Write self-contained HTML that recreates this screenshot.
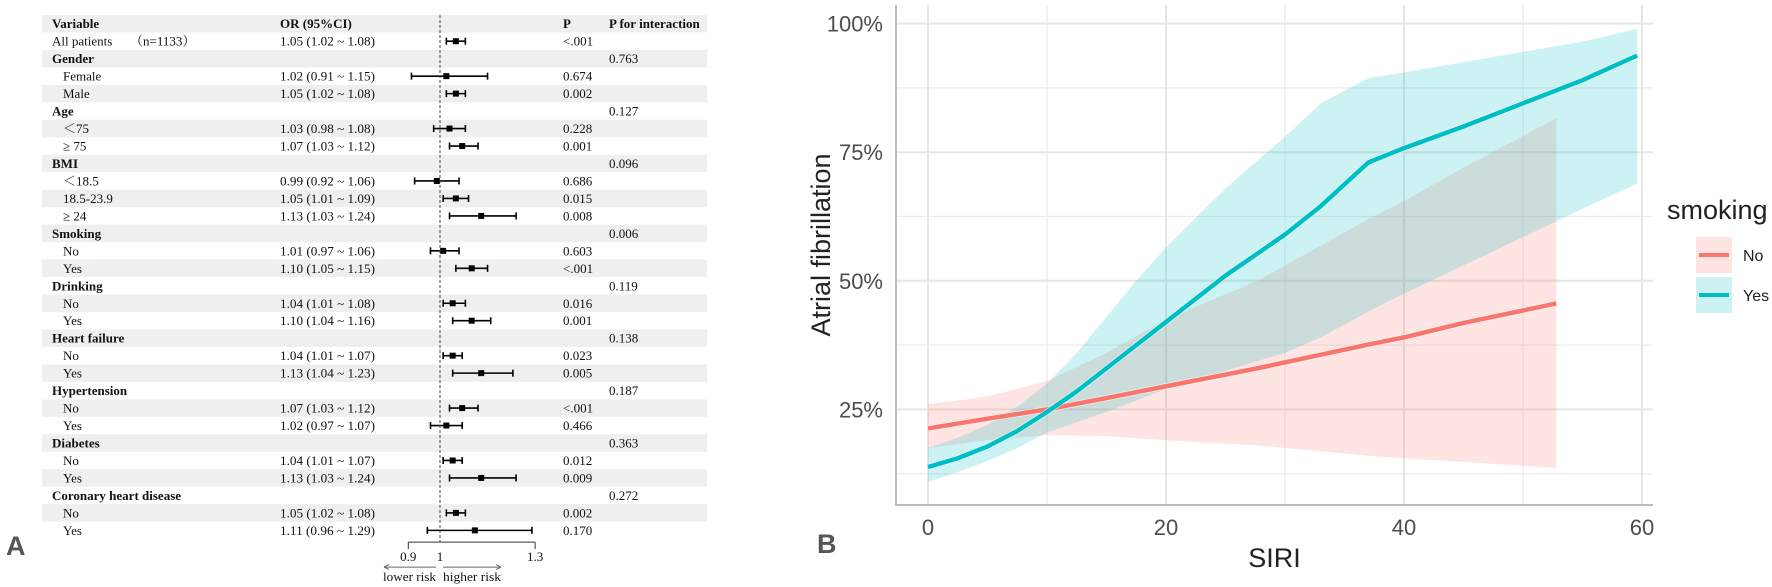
<!DOCTYPE html>
<html><head><meta charset="utf-8">
<style>
html,body{margin:0;padding:0;background:#fff;}
svg{display:block;}
.serif{font-family:"Liberation Serif","Noto Serif CJK SC",serif;}
.sans{font-family:"Liberation Sans",sans-serif;}
</style></head>
<body>
<svg id="fig" width="1772" height="587" viewBox="0 0 1772 587" xmlns="http://www.w3.org/2000/svg">
  <g id="forest"></g>
  <g id="chart"></g>
</svg>
<script>
// ---------- Panel A data ----------
const rowLabels = ["All patients","Gender","Female","Male","Age","\uFF1C75","\u2265 75","BMI","\uFF1C18.5","18.5-23.9","\u2265 24","Smoking","No","Yes","Drinking","No","Yes","Heart failure","No","Yes","Hypertension","No","Yes","Diabetes","No","Yes","Coronary heart disease","No","Yes"];
const rowIsGroup = [1,1,0,0,1,0,0,1,0,0,0,1,0,0,1,0,0,1,0,0,1,0,0,1,0,0,1,0,0];
const orValues = [1.05,null,1.02,1.05,null,1.03,1.07,null,0.99,1.05,1.13,null,1.01,1.10,null,1.04,1.10,null,1.04,1.13,null,1.07,1.02,null,1.04,1.13,null,1.05,1.11];
const orLower  = [1.02,null,0.91,1.02,null,0.98,1.03,null,0.92,1.01,1.03,null,0.97,1.05,null,1.01,1.04,null,1.01,1.04,null,1.03,0.97,null,1.01,1.03,null,1.02,0.96];
const orUpper  = [1.08,null,1.15,1.08,null,1.08,1.12,null,1.06,1.09,1.24,null,1.06,1.15,null,1.08,1.16,null,1.07,1.23,null,1.12,1.07,null,1.07,1.24,null,1.08,1.29];
const pValues  = ["<.001","","0.674","0.002","","0.228","0.001","","0.686","0.015","0.008","","0.603","<.001","","0.016","0.001","","0.023","0.005","","<.001","0.466","","0.012","0.009","","0.002","0.170"];
const pInter   = ["","0.763","","","0.127","","","0.096","","","","0.006","","","0.119","","","0.138","","","0.187","","","0.363","","","0.272","",""];
const forestTicks = [0.9,1,1.3];

// ---------- Panel B data ----------
const noX     = [0,5,10,15,20,27.7,37,40,45,52.8];
const noFit   = [0.213,0.232,0.25,0.272,0.295,0.33,0.376,0.39,0.418,0.456];
const noLo    = [0.175,0.19,0.2,0.198,0.19,0.18,0.16,0.155,0.148,0.136];
const noHi    = [0.26,0.275,0.305,0.36,0.425,0.5,0.62,0.655,0.72,0.816];
const yesX    = [0,2.5,5,7.5,10,12.5,15,17.5,20,25,30,33,37,40,45,50,55,59.6];
const yesFit  = [0.138,0.155,0.178,0.208,0.245,0.285,0.33,0.375,0.42,0.51,0.59,0.645,0.73,0.758,0.80,0.845,0.89,0.938];
const yesLo   = [0.109,0.128,0.15,0.175,0.205,0.225,0.245,0.267,0.29,0.325,0.36,0.39,0.44,0.475,0.53,0.585,0.64,0.689];
const yesHi   = [0.175,0.195,0.22,0.255,0.3,0.36,0.43,0.5,0.565,0.68,0.78,0.845,0.894,0.905,0.925,0.945,0.965,0.99];
const xTicks  = [0,20,40,60];
const yTicks  = [0.25,0.5,0.75,1.0];
const yTickLabels = ["25%","50%","75%","100%"];
const xMinor  = [10,30,50];
const yMinor  = [0.125,0.375,0.625,0.875];

const NS="http://www.w3.org/2000/svg";
function mk(tag,attrs,parent){const e=document.createElementNS(NS,tag);for(const k in attrs)e.setAttribute(k,attrs[k]);parent.appendChild(e);return e;}

// ---------- Draw panel A ----------
const fg=document.getElementById('forest');
const rowTop0=15, rowH=17.47, tblL=42, tblR=707;
const fx=v=>440+(v-1)*317;
function fmt(v){return v.toFixed(2);}
let hb=mk('rect',{x:tblL,y:rowTop0,width:tblR-tblL,height:rowH,fill:'#eef0ee'},fg);


const headers=[["Variable",52],["OR (95%CI)",280],["P",563],["P for interaction",609]];
headers.forEach(h=>{const t=mk('text',{x:h[1],y:rowTop0+13,class:'serif','font-size':13,'font-weight':'bold',fill:'#111'},fg);t.textContent=h[0];

});
rowLabels.forEach((lab,i)=>{
  const top=rowTop0+(i+1)*rowH, cy=top+rowH/2;
  const g=mk('g',{},fg);
  
  
  if((i+1)%2===0){mk('rect',{x:tblL,y:top,width:tblR-tblL,height:rowH,fill:'#eef0ee'},g);}
  const indent=(rowIsGroup[i]?52:63);
  const t=mk('text',{x:indent,y:cy+4.5,class:'serif','font-size':13,fill:'#111','font-weight':(rowIsGroup[i]&&i>0)?'bold':'normal'},g);
  t.textContent=lab;
  if(i===0){const n=mk('text',{x:130,y:cy+4.5,class:'serif','font-size':13,fill:'#111'},g);n.textContent="\uFF08n=1133\uFF09";}
  if(orValues[i]!==null){
    const ot=mk('text',{x:280,y:cy+4.5,class:'serif','font-size':13,fill:'#111',textLength:95,lengthAdjust:'spacingAndGlyphs'},g);
    ot.textContent=fmt(orValues[i])+" ("+fmt(orLower[i])+" ~ "+fmt(orUpper[i])+")";
    const l=fx(orLower[i]), r=fx(orUpper[i]), c=fx(orValues[i]);
    mk('line',{x1:l,x2:r,y1:cy,y2:cy,stroke:'#000','stroke-width':1.6},g);
    mk('line',{x1:l,x2:l,y1:cy-3.5,y2:cy+3.5,stroke:'#000','stroke-width':1.6},g);
    mk('line',{x1:r,x2:r,y1:cy-3.5,y2:cy+3.5,stroke:'#000','stroke-width':1.6},g);
    const sq=mk('rect',{x:c-3,y:cy-3,width:6,height:6,fill:'#000'},g);
    
    
  }
  if(pValues[i]){const p=mk('text',{x:563,y:cy+4.5,class:'serif','font-size':13,fill:'#111'},g);p.textContent=pValues[i];}
  if(pInter[i]){const p=mk('text',{x:609,y:cy+4.5,class:'serif','font-size':13,fill:'#111'},g);p.textContent=pInter[i];}
});
const axY=rowTop0+30*rowH+3;
const dl=mk('line',{x1:fx(1),x2:fx(1),y1:rowTop0,y2:axY,stroke:'#444','stroke-width':1,'stroke-dasharray':'3,2'},fg);


const fa=mk('g',{},fg);


mk('line',{x1:fx(forestTicks[0]),x2:fx(forestTicks[forestTicks.length-1]),y1:axY,y2:axY,stroke:'#333','stroke-width':1},fa);
forestTicks.forEach(v=>{
  if(v!==1) mk('line',{x1:fx(v),x2:fx(v),y1:axY,y2:axY+7,stroke:'#333','stroke-width':1},fa);
  const t=mk('text',{x:fx(v),y:axY+19,class:'serif','font-size':13,fill:'#111','text-anchor':'middle'},fa);t.textContent=String(v);
});
const arY=axY+25;
mk('line',{x1:436,x2:384,y1:arY,y2:arY,stroke:'#666','stroke-width':1},fa);
mk('path',{d:`M384 ${arY} l5 -2.5 M384 ${arY} l5 2.5`,stroke:'#666','stroke-width':1,fill:'none'},fa);
mk('line',{x1:443,x2:501,y1:arY,y2:arY,stroke:'#666','stroke-width':1},fa);
mk('path',{d:`M501 ${arY} l-5 -2.5 M501 ${arY} l-5 2.5`,stroke:'#666','stroke-width':1,fill:'none'},fa);
let lr=mk('text',{x:383,y:arY+14,class:'serif','font-size':13,fill:'#111',textLength:53,lengthAdjust:'spacingAndGlyphs'},fa);lr.textContent="lower risk";
let hr=mk('text',{x:443,y:arY+14,class:'serif','font-size':13,fill:'#111',textLength:58,lengthAdjust:'spacingAndGlyphs'},fa);hr.textContent="higher risk";
const A=mk('text',{x:6,y:555,class:'sans','font-size':27,'font-weight':'bold',fill:'#555'},fg);A.textContent="A";



// ---------- Draw panel B ----------
const cg=document.getElementById('chart');
const pL=896,pR=1653,pT=5,pB=505;
const X=v=>928+v*11.9;
const Y=p=>23.6+(1-p)*514.4;
const grid=mk('g',{},cg);


yMinor.forEach(p=>mk('line',{x1:pL,x2:pR,y1:Y(p),y2:Y(p),stroke:'#ececec','stroke-width':1.3},grid));
xMinor.forEach(v=>mk('line',{x1:X(v),x2:X(v),y1:pT,y2:pB,stroke:'#ececec','stroke-width':1.3},grid));
yTicks.forEach(p=>mk('line',{x1:pL,x2:pR,y1:Y(p),y2:Y(p),stroke:'#e6e6e6','stroke-width':2},grid));
xTicks.forEach(v=>mk('line',{x1:X(v),x2:X(v),y1:pT,y2:pB,stroke:'#e6e6e6','stroke-width':2},grid));
function ribbon(xs,lo,hi,color,name){
  let d='M'+xs.map((x,i)=>X(x)+' '+Y(hi[i])).join(' L');
  d+=' L'+xs.slice().reverse().map((x,k)=>{const i=xs.length-1-k;return X(x)+' '+Y(lo[i]);}).join(' L')+' Z';
  const r=mk('path',{d:d,fill:color,'fill-opacity':0.2,stroke:'none'},cg);
  
  
}
function line(xs,ys,color,name){
  const d='M'+xs.map((x,i)=>X(x)+' '+Y(ys[i])).join(' L');
  mk('path',{d:d,fill:'none',stroke:'#fff','stroke-width':6,'stroke-linejoin':'round','stroke-opacity':0.6},cg);
  const l=mk('path',{d:d,fill:'none',stroke:color,'stroke-width':4.5,'stroke-linejoin':'round'},cg);
  
  
}
ribbon(noX,noLo,noHi,'#F8766D','ribbon-no');
ribbon(yesX,yesLo,yesHi,'#00BFC4','ribbon-yes');
line(noX,noFit,'#F8766D','line-no');
line(yesX,yesFit,'#00BFC4','line-yes');
const ax=mk('g',{},cg);


mk('line',{x1:pL,x2:pL,y1:pT,y2:pB+1,stroke:'#bdbdbd','stroke-width':2},ax);
mk('line',{x1:pL-1,x2:pR,y1:pB,y2:pB,stroke:'#bdbdbd','stroke-width':2},ax);
yTicks.forEach((p,i)=>{const t=mk('text',{x:883,y:Y(p)+8,class:'sans','font-size':22,fill:'#4d4d4d','text-anchor':'end'},ax);t.textContent=yTickLabels[i];

});
xTicks.forEach(v=>{const t=mk('text',{x:X(v),y:535,class:'sans','font-size':22,fill:'#4d4d4d','text-anchor':'middle'},ax);t.textContent=String(v);

});
const xt=mk('text',{x:(pL+pR)/2,y:567,class:'sans','font-size':27,fill:'#222','text-anchor':'middle'},cg);xt.textContent="SIRI";


const yt=mk('text',{x:0,y:0,class:'sans','font-size':27,fill:'#222','text-anchor':'middle',transform:'translate(830,245) rotate(-90)'},cg);yt.textContent="Atrial fibrillation";


const B=mk('text',{x:817,y:553,class:'sans','font-size':27,'font-weight':'bold',fill:'#555'},cg);B.textContent="B";


const lg=mk('g',{},cg);


const lt=mk('text',{x:1667,y:219,class:'sans','font-size':27,fill:'#222'},lg);lt.textContent="smoking";
const legItems=[["No",'#F8766D',237],["Yes",'#00BFC4',277]];
legItems.forEach(it=>{
  const e=mk('g',{},lg);
  
  
  mk('rect',{x:1696,y:it[2],width:36,height:36,fill:it[1],'fill-opacity':0.2},e);
  mk('line',{x1:1699,x2:1729,y1:it[2]+18,y2:it[2]+18,stroke:it[1],'stroke-width':4},e);
  const t=mk('text',{x:1743,y:it[2]+24,class:'sans','font-size':16,fill:'#222'},e);t.textContent=it[0];
});
</script>
</body></html>
